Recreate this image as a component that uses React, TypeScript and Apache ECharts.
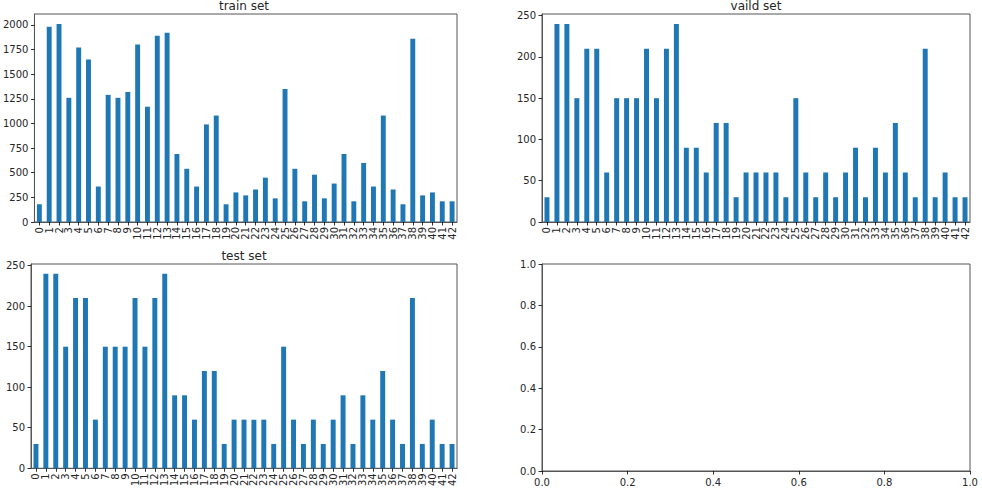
import React, { useEffect, useRef } from "react";
import * as echarts from "echarts";

const classes: string[] = Array.from({ length: 43 }, (_, i) => String(i));

const trainCounts = [
  180, 1980, 2010, 1260, 1770, 1650, 360, 1290, 1260, 1320, 1800, 1170, 1890, 1920, 690, 540, 360, 990, 1080, 180,
  300, 270, 330, 450, 240, 1350, 540, 210, 480, 240, 390, 690, 210, 599, 360, 1080, 330, 180, 1860, 270, 300, 210, 210,
];

const validCounts = [
  30, 240, 240, 150, 210, 210, 60, 150, 150, 150, 210, 150, 210, 240, 90, 90, 60, 120, 120, 30,
  60, 60, 60, 60, 30, 150, 60, 30, 60, 30, 60, 90, 30, 90, 60, 120, 60, 30, 210, 30, 60, 30, 30,
];

const testCounts = [
  30, 240, 240, 150, 210, 210, 60, 150, 150, 150, 210, 150, 210, 240, 90, 90, 60, 120, 120, 30,
  60, 60, 60, 60, 30, 150, 60, 30, 60, 30, 60, 90, 30, 90, 60, 120, 60, 30, 210, 30, 60, 30, 30,
];

const titles = ["train set", "vaild set", "test set"];

const FONT = "DejaVu Sans";
const TXT = "#262626";
const SPINE = "#555";
const BAR = "#1f77b4";

export default function App() {
  const ref = useRef<HTMLDivElement>(null);
  useEffect(() => {
    if (!ref.current) return;
    const chart = echarts.init(ref.current, null, { renderer: "svg" });
    const grids = [
      { left: 31, top: 14, width: 426, height: 208 },
      { left: 542, top: 14, width: 428, height: 208 },
      { left: 31, top: 264, width: 426, height: 207 },
      { left: 542, top: 264, width: 428, height: 207 },
    ].map((g) => ({ ...g, show: true, borderColor: SPINE, borderWidth: 1, containLabel: false }));

    const axisCommon = {
      axisLine: { show: true, lineStyle: { color: SPINE, width: 1 } },
      axisTick: { show: true, length: 3.5, lineStyle: { color: "#000", width: 0.8 } },
      splitLine: { show: false },
    };

    const catX = (idx: number) => ({
      type: "category",
      gridIndex: idx,
      data: classes,
      boundaryGap: true,
      ...axisCommon,
      axisTick: { ...axisCommon.axisTick, alignWithLabel: true, interval: 0 },
      axisLabel: {
        interval: 0,
        rotate: 90,
        fontFamily: FONT,
        fontSize: 10,
        color: TXT,
        margin: 5,
      },
    });

    const valY = (idx: number, max: number, interval: number) => ({
      type: "value",
      gridIndex: idx,
      min: 0,
      max,
      interval,
      ...axisCommon,
      axisLabel: {
        fontFamily: FONT,
        fontSize: 10,
        color: TXT,
        margin: 6,
        showMaxLabel: false,
        formatter: (v: number) => String(v),
      },
    });

    const sets = [trainCounts, validCounts, testCounts];
    const maxes = sets.map((s) => Math.max(...s) * 1.05);

    const unitAxis = (idx: number) => ({
      type: "value",
      gridIndex: idx,
      min: 0,
      max: 1,
      interval: 0.2,
      ...axisCommon,
      axisLabel: {
        fontFamily: FONT,
        fontSize: 10,
        color: TXT,
        margin: 6,
        formatter: (v: number) => v.toFixed(1),
      },
    });

    const option: any = {
      animation: false,
      backgroundColor: "#fff",
      grid: grids,
      xAxis: [catX(0), catX(1), catX(2), unitAxis(3)],
      yAxis: [valY(0, maxes[0], 250), valY(1, maxes[1], 50), valY(2, maxes[2], 50), unitAxis(3)],
      series: sets.map((s, i) => ({
        type: "bar",
        xAxisIndex: i,
        yAxisIndex: i,
        data: s,
        barWidth: "50%",
        itemStyle: { color: BAR },
      })),
      graphic: [
        { type: "text", x: 244, y: 6, style: { text: titles[0], textAlign: "center", textVerticalAlign: "middle", fontFamily: FONT, fontSize: 12, fill: TXT } },
        { type: "text", x: 756, y: 6, style: { text: titles[1], textAlign: "center", textVerticalAlign: "middle", fontFamily: FONT, fontSize: 12, fill: TXT } },
        { type: "text", x: 244, y: 256, style: { text: titles[2], textAlign: "center", textVerticalAlign: "middle", fontFamily: FONT, fontSize: 12, fill: TXT } },
      ],
    };
    chart.setOption(option);
    return () => chart.dispose();
  }, []);
  return (
    <div
      ref={ref}
      style={{ position: "fixed", left: 0, top: 0, width: 982, height: 489 }}
    />
  );
}
